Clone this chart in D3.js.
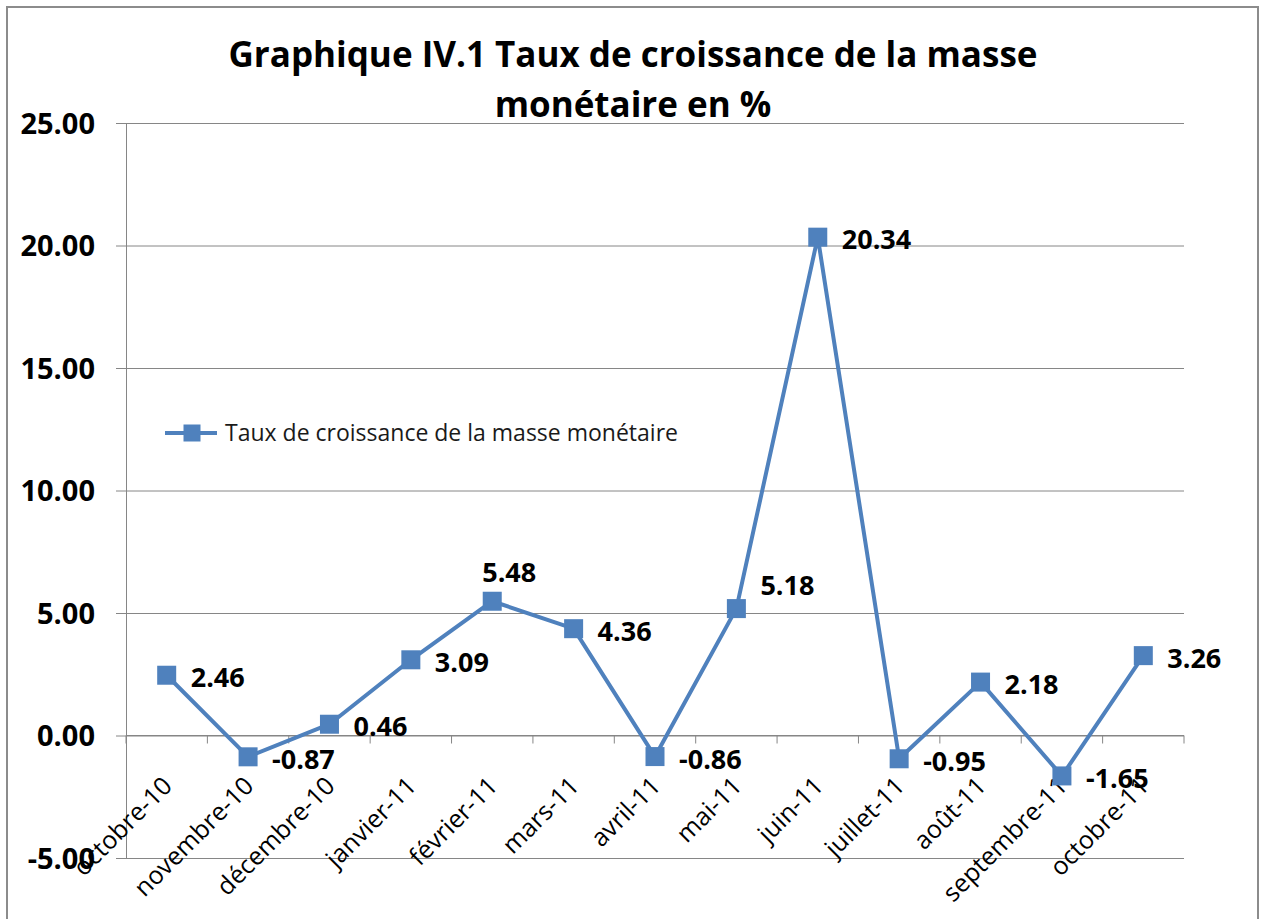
<!DOCTYPE html>
<html>
<head>
<meta charset="utf-8">
<script src="https://cdn.jsdelivr.net/npm/d3@7"></script>
<style>
  body { margin: 0; background: #fff; }
  svg { display: block; }
  svg text { font-family: "Open Sans", Lato, sans-serif; }
</style>
</head>
<body>
<svg id="chart" width="1262" height="919"></svg>
<script>
// data
var months = ["octobre-10", "novembre-10", "décembre-10", "janvier-11", "février-11", "mars-11",
              "avril-11", "mai-11", "juin-11", "juillet-11", "août-11", "septembre-11", "octobre-11"];
var growth = [2.46, -0.87, 0.46, 3.09, 5.48, 4.36, -0.86, 5.18, 20.34, -0.95, 2.18, -1.65, 3.26];
// where each value label sits relative to its marker
var labelPlace = ["right", "right", "right", "right", "above", "right",
                  "right", "aboveRight", "right", "right", "right", "right", "right"];
var yTicks = [-5, 0, 5, 10, 15, 20, 25];
var seriesName = "Taux de croissance de la masse monétaire";
var titleLines = ["Graphique IV.1 Taux de croissance de la masse", "monétaire en %"];

var blue = "#4f81bd",
    grid = "#868686";

// plain hyphen for negatives, like the original
var fmt = d3.formatLocale({decimal: ".", thousands: ",", grouping: [3], currency: ["", ""], minus: "-"})
    .format(".2f");

var svg = d3.select("#chart");

// outer frame
svg.append("rect")
    .attr("x", 7).attr("y", 7)
    .attr("width", 1251).attr("height", 930)
    .attr("fill", "none")
    .attr("stroke", "#8c8c8c")
    .attr("stroke-width", 2);

var plotL = 126, plotR = 1184, plotT = 123, plotB = 858;

var x = d3.scaleBand().domain(months).range([plotL, plotR]);
var y = d3.scaleLinear().domain([-5, 25]).range([plotB, plotT]);

function cx(d, i) { return x(months[i]) + x.bandwidth() / 2; }

// horizontal gridlines + y axis
var yAxis = d3.axisLeft(y)
    .tickValues(yTicks)
    .tickSize(10)
    .tickPadding(21)
    .tickFormat(fmt);

var gy = svg.append("g")
    .attr("transform", "translate(" + plotL + ",0)")
    .call(yAxis)
    .attr("font-family", null);
gy.select(".domain").attr("stroke", grid);
gy.selectAll(".tick line").attr("stroke", grid);
gy.selectAll(".tick text")
    .attr("fill", "#000")
    .style("font-size", "29px")
    .style("font-weight", "bold")
    .attr("dy", "0.36em");
gy.selectAll(".tick").append("line")
    .attr("x1", 0).attr("x2", plotR - plotL)
    .attr("stroke", grid);

// category axis sits on zero
var xAxis = d3.axisBottom(x).tickSize(0).tickFormat("");
var gx = svg.append("g")
    .attr("transform", "translate(0," + y(0) + ")")
    .call(xAxis)
    .attr("font-family", null);
gx.select(".domain").remove();
gx.append("line")
    .attr("x1", plotL).attr("x2", plotR)
    .attr("stroke", grid);
gx.append("g").selectAll("line")
    .data(d3.range(months.length + 1))
    .enter().append("line")
    .attr("x1", function(i) { return plotL + i * x.step(); })
    .attr("x2", function(i) { return plotL + i * x.step(); })
    .attr("y1", 0).attr("y2", 8)
    .attr("stroke", grid);

gx.append("g").selectAll("text")
    .data(months)
    .enter().append("text")
    .attr("text-anchor", "end")
    .attr("transform", function(d) {
      var px = x(d) + x.bandwidth() / 2 + 7;
      return "translate(" + px + ",52) rotate(-45)";
    })
    .style("font-size", "25px")
    .attr("fill", "#000")
    .text(function(d) { return d; });

// the series
var line = d3.line()
    .x(function(d, i) { return cx(d, i); })
    .y(function(d) { return y(d); });

svg.append("path")
    .datum(growth)
    .attr("d", line)
    .attr("fill", "none")
    .attr("stroke", blue)
    .attr("stroke-width", 4)
    .attr("stroke-linejoin", "round");

var m = 19;
svg.append("g").selectAll("rect")
    .data(growth)
    .enter().append("rect")
    .attr("x", function(d, i) { return cx(d, i) - m / 2; })
    .attr("y", function(d) { return y(d) - m / 2; })
    .attr("width", m).attr("height", m)
    .attr("fill", blue);

svg.append("g").selectAll("text")
    .data(growth)
    .enter().append("text")
    .attr("x", function(d, i) {
      var p = labelPlace[i];
      if (p == "above") return cx(d, i) + 17;
      return cx(d, i) + 24;
    })
    .attr("y", function(d, i) {
      var p = labelPlace[i];
      if (p == "above") return y(d) - 19;
      if (p == "aboveRight") return y(d) - 14;
      return y(d) + 12;
    })
    .attr("text-anchor", function(d, i) { return labelPlace[i] == "above" ? "middle" : "start"; })
    .style("font-size", "27px")
    .style("font-weight", "bold")
    .attr("fill", "#000")
    .text(function(d) { return fmt(d); });

// legend
var lg = svg.append("g").attr("transform", "translate(165,433)");
lg.append("line").attr("x1", 0).attr("x2", 52).attr("stroke", blue).attr("stroke-width", 4);
lg.append("rect").attr("x", 27 - 8.5).attr("y", -8.5).attr("width", 17).attr("height", 17).attr("fill", blue);
lg.append("text")
    .attr("x", 60).attr("y", 8)
    .style("font-size", "23px")
    .attr("fill", "#1a1a1a")
    .text(seriesName);

// title
svg.append("g").selectAll("text")
    .data(titleLines)
    .enter().append("text")
    .attr("x", 633)
    .attr("y", function(d, i) { return 67 + i * 50; })
    .attr("text-anchor", "middle")
    .style("font-size", "35px")
    .style("font-weight", "bold")
    .attr("fill", "#000")
    .text(function(d) { return d; });
</script>
</body>
</html>
